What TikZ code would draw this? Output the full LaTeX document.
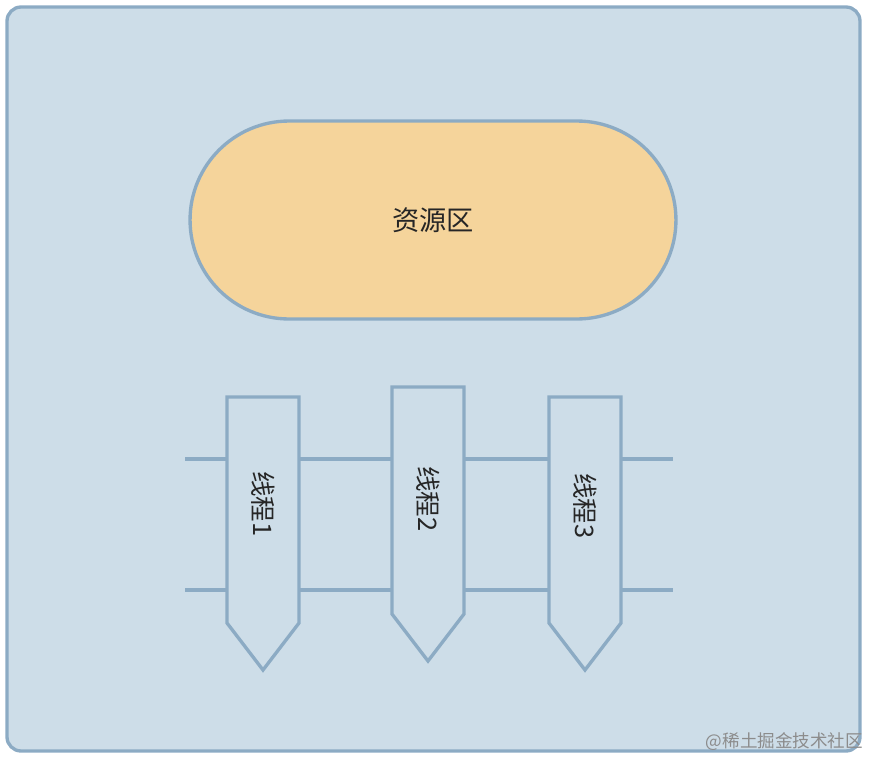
\documentclass[tikz,border=0pt]{standalone}
\usepackage{fontspec}
\newfontfamily\cjk{Noto Sans CJK SC}
\definecolor{panelblue}{HTML}{CDDDE8}
\definecolor{edgeblue}{HTML}{8CABC4}
\definecolor{poolorange}{HTML}{F5D49B}

\tikzstyle{every node}=[font={\cjk}, text=black!85, inner sep=2pt]
\tikzstyle{panel}=[draw=edgeblue, fill=panelblue, line width=1.9pt, rounded corners=8pt]
\tikzstyle{pool}=[draw=edgeblue, fill=poolorange, line width=1.9pt, rectangle, rounded corners=1.98cm, minimum width=9.72cm, minimum height=3.96cm, font={\cjk\fontsize{15.5}{18}\selectfont}]
\tikzstyle{rail}=[draw=edgeblue, line width=1.9pt]
\tikzstyle{thread}=[draw=edgeblue, fill=panelblue, line width=1.9pt, line join=miter]
\tikzstyle{threadlabel}=[rotate=-90, font={\cjk\fontsize{14.5}{17}\selectfont}]
\tikzstyle{watermark}=[anchor=south east, text=black!45, font={\cjk\fontsize{10}{12}\selectfont}]

\begin{document}
\begin{tikzpicture}[x=0.02cm, y=-0.02cm]
    \useasboundingbox (0,0) rectangle (870,758);
    \draw [panel] (7,7) rectangle (860,751);

    \node [pool] (pool) at (433,220) {资源区};

    % rails behind the threads
    \coordinate (upperL) at (185,459);
    \coordinate (upperR) at (673,459);
    \coordinate (lowerL) at (185,590);
    \coordinate (lowerR) at (673,590);
    \draw [rail] (upperL) -- (upperR);
    \draw [rail] (lowerL) -- (lowerR);

    \foreach \n/\x/\top/\tip/\ty in {1/263/397/670/504, 2/428/387/661/499, 3/585/397/670/506} {
        \draw [thread] (\x-36,\top) -- (\x+36,\top) -- (\x+36,\tip-47)
            -- (\x,\tip) -- (\x-36,\tip-47) -- cycle;
        \node [threadlabel] (thread\n) at (\x,\ty) {线程\n};
    }

    \node [watermark] (wm) at (867,754) {@稀土掘金技术社区};
\end{tikzpicture}
\end{document}
